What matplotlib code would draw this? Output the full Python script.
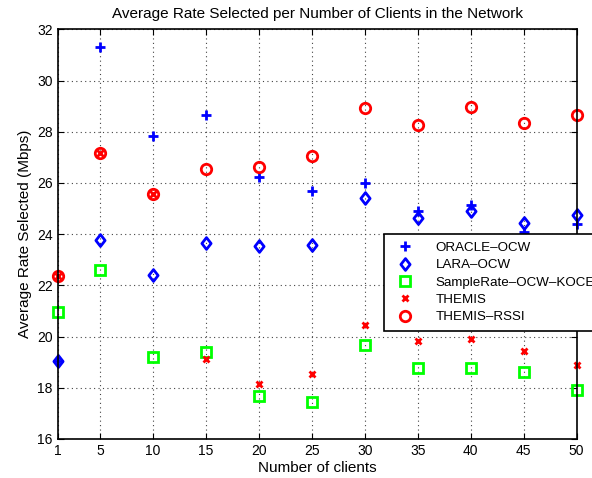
import matplotlib.pyplot as plt
from matplotlib.path import Path

plt.rcParams['font.family'] = ['Liberation Sans', 'DejaVu Sans']

clients = [1, 5, 10, 15, 20, 25, 30, 35, 40, 45, 50]

oracle = [19.05, 31.3, 27.85, 28.65, 26.25, 25.7, 26.0, 24.9, 25.15, 24.1, 24.4]
lara = [19.05, 23.78, 22.42, 23.66, 23.52, 23.57, 25.4, 24.63, 24.9, 24.45, 24.76]
samplerate = [20.95, 22.6, 19.2, 19.4, 17.67, 17.45, 19.66, 18.77, 18.77, 18.6, 17.9]
themis = [22.35, 27.16, 25.55, 19.13, 18.16, 18.52, 20.47, 19.83, 19.92, 19.43, 18.88]
themis_rssi = [22.35, 27.16, 25.55, 26.55, 26.63, 27.06, 28.93, 28.27, 28.98, 28.35, 28.65]

# diamond a bit wider than matplotlib's thin 'd'
diamond = Path([(0, 1), (0.78, 0), (0, -1), (-0.78, 0), (0, 1)],
               [Path.MOVETO, Path.LINETO, Path.LINETO, Path.LINETO, Path.CLOSEPOLY])

fig = plt.figure(figsize=(5.92, 4.78), dpi=100)
ax = fig.add_axes([0.0975, 0.0816, 0.8765, 0.8571])

kw = dict(linestyle='none', clip_on=False, mew=2)
ax.plot(clients, oracle, marker='+', color='#0000ff', ms=7.5, label='ORACLE–OCW', **kw)
ax.plot(clients, lara, marker=diamond, color='#0000ff', mfc='none', ms=8.5,
        label='LARA–OCW', **kw)
ax.plot(clients, samplerate, marker='s', color='#00ff00', mfc='none', ms=6.5,
        label='SampleRate–OCW–KOCE', **kw)
ax.plot(clients, themis, marker='x', color='#ff0000', ms=4.5, label='THEMIS', **kw)
ax.plot(clients, themis_rssi, marker='o', color='#ff0000', mfc='none', ms=7.5,
        label='THEMIS–RSSI', **kw)

ax.set_xlim(1, 50)
ax.set_ylim(16, 32)
ax.set_xticks(clients)
ax.set_yticks(range(16, 33, 2))
ax.tick_params(direction='in', top=True, right=True, labelsize=10, length=4)
ax.grid(True, linestyle=(0, (1, 3)), color='#444444', linewidth=0.8)
for s in ax.spines.values():
    s.set_linewidth(1.2)

ax.set_title('Average Rate Selected per Number of Clients in the Network', fontsize=11,
             pad=8)
ax.set_xlabel('Number of clients', fontsize=11, labelpad=2)
ax.set_ylabel('Average Rate Selected (Mbps)', fontsize=11)

leg = ax.legend(loc='upper left', bbox_to_anchor=(0.629, 0.5), fontsize=9.6,
                fancybox=False, framealpha=1, edgecolor='black', borderaxespad=0,
                borderpad=0.55, labelspacing=0.38, handletextpad=1.3)
leg.get_frame().set_linewidth(1.2)

fig.savefig('out.png', dpi=100)
